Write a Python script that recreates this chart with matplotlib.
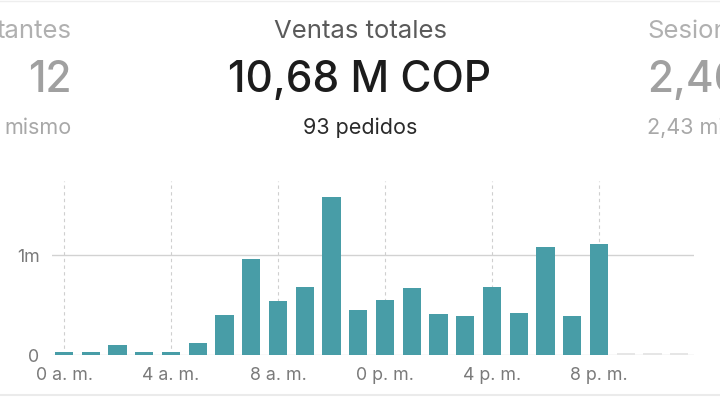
import matplotlib
matplotlib.use("Agg")
import matplotlib.pyplot as plt

plt.rcParams["font.family"] = ["Inter", "DejaVu Sans"]

# ── Data ──────────────────────────────────────────────────────────────────────
HOURS = list(range(24))
SALES_M = [0.03, 0.03, 0.10, 0.03, 0.03, 0.125, 0.40, 0.965, 0.545, 0.685,
           1.575, 0.455, 0.555, 0.675, 0.415, 0.39, 0.685, 0.425, 1.085,
           0.395, 1.115]
PENDING_M = [0.02, 0.02, 0.02]          # future hours, shown as grey stubs
TICK_POS = [0, 4, 8, 12, 16, 20]
TICK_LABELS = ["0 a. m.", "4 a. m.", "8 a. m.", "0 p. m.", "4 p. m.", "8 p. m."]
Y_TICKS = [0, 1]
Y_LABELS = ["0", "1m"]

BAR = "#489da7"
W, H = 720, 397

fig = plt.figure(figsize=(W / 100, H / 100), dpi=100)
fig.patch.set_facecolor("white")

# ── Header ────────────────────────────────────────────────────────────────────
fig.text(360 / W, 1 - 32 / H, "Ventas totales", ha="center", va="center",
         fontsize=18.5, color="#5a5a5a")
fig.text(359 / W, 1 - 80 / H, "10,68 M COP", ha="center", va="center",
         fontsize=30.5, fontweight="medium", color="#1c1c1c")
fig.text(360 / W, 1 - 128 / H, "93 pedidos", ha="center", va="center",
         fontsize=15.5, color="#2a2a2a")

fig.text(72 / W, 1 - 32 / H, "tantes", ha="right", va="center",
         fontsize=18.5, color="#b0b0b0")
fig.text(72 / W, 1 - 80 / H, "12", ha="right", va="center",
         fontsize=30.5, fontweight="medium", color="#a0a0a0")
fig.text(72 / W, 1 - 128 / H, "mismo", ha="right", va="center",
         fontsize=15.5, color="#a8a8a8")

fig.text(647 / W, 1 - 32 / H, "Sesiones", ha="left", va="center",
         fontsize=18.5, color="#b0b0b0")
fig.text(647 / W, 1 - 80 / H, "2,46", ha="left", va="center",
         fontsize=30.5, fontweight="medium", color="#a0a0a0")
fig.text(647 / W, 1 - 128 / H, "2,43 mil", ha="left", va="center",
         fontsize=15.5, color="#a8a8a8")

# ── Chart ─────────────────────────────────────────────────────────────────────
ax = fig.add_axes([52 / W, 42 / H, 642 / W, 174 / H])
ax.set_xlim(-0.45, 23.55)
ax.set_ylim(0, 1.74)

for x in TICK_POS:
    ax.axvline(x, color="#cfcfcf", lw=0.8, ls=(0, (3, 3)), zorder=0)
ax.axhline(1, color="#d2d2d2", lw=1.0, zorder=0)
ax.axhline(0, color="#dcdcdc", lw=1.0, zorder=0)

ax.bar(HOURS[:len(SALES_M)], SALES_M, width=0.68, color=BAR, zorder=2)
ax.bar(HOURS[len(SALES_M):], PENDING_M, width=0.68, color="#e6e6e6", zorder=2)

ax.set_xticks(TICK_POS)
ax.set_xticklabels(TICK_LABELS)
ax.set_yticks(Y_TICKS)
ax.set_yticklabels(Y_LABELS)
ax.tick_params(length=0, labelsize=12.8, labelcolor="#7a7a7a")
ax.tick_params(axis="x", pad=9)
ax.tick_params(axis="y", pad=9)
for s in ax.spines.values():
    s.set_visible(False)

# page lines top and bottom
fig.add_artist(plt.Line2D([0, 1], [1 - 1 / H, 1 - 1 / H], color="#eeeeee", lw=1))
fig.add_artist(plt.Line2D([0, 1], [2 / H, 2 / H], color="#ebebeb", lw=1.5))

fig.savefig("out.png", dpi=100)
